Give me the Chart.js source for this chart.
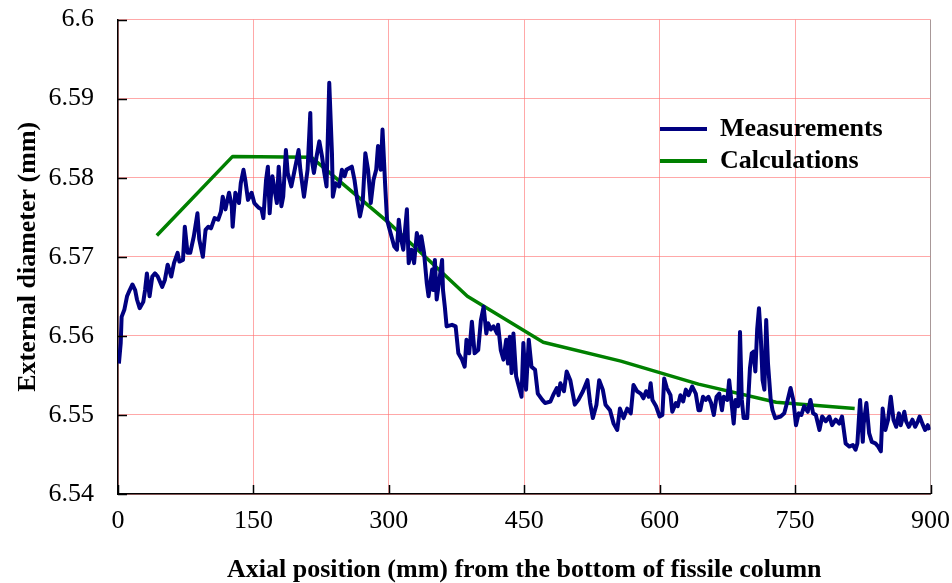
<!DOCTYPE html>
<html><head><meta charset="utf-8">
<script src="https://cdn.jsdelivr.net/npm/chart.js@4"></script>
<style>
html,body{margin:0;padding:0;background:#fff;}
#wrap{position:relative;width:952px;height:583px;}
canvas{display:block;}
.leg{position:absolute;left:660px;font:bold 26px 'Liberation Serif','Times New Roman',serif;color:#000;height:30px;line-height:30px;white-space:nowrap;}
.leg span.sw{display:inline-block;width:47px;height:4px;vertical-align:middle;margin-right:13px;position:relative;top:-1px;}
</style></head>
<body><div id="wrap"><canvas id="c" width="952" height="583"></canvas>
<div class="leg" style="top:113px"><span class="sw" style="background:#000080"></span>Measurements</div>
<div class="leg" style="top:145px"><span class="sw" style="background:#008000"></span>Calculations</div>
</div>
<script>
const measX = [1,3,4,7,10,13,16,19,21,24,28,30,32,35,38,41,44,49,52,55,
59,62,66,68,72,74,77,80,84,88,90,94,97,100,103,107,111,114,116,119,
123,126,127,130,134,136,139,141,144,148,151,156,159,161,164,166,168,171,174,176,
178,181,183,186,188,192,195,198,200,202,206,210,213,214,217,220,223,226,228,231,
234,237,238,241,245,248,251,253,256,259,262,265,268,271,274,277,280,283,286,288,
291,293,296,298,301,306,309,311,313,316,320,322,325,328,331,335,336,339,342,344,
348,349,351,353,356,359,360,362,364,370,374,377,381,384,386,389,392,395,399,402,
405,408,410,413,416,420,421,424,427,430,432,434,436,438,441,444,447,449,452,455,
458,462,465,470,473,479,482,486,488,490,494,497,501,506,510,515,520,523,526,530,
533,537,540,545,549,553,556,560,564,568,571,575,579,582,585,588,590,592,596,600,
603,605,608,612,614,618,620,623,626,629,632,636,640,643,645,648,651,654,657,660,
663,666,669,671,675,677,680,682,684,687,689,691,693,697,700,702,704,706,708,710,
712,714,716,718,720,723,725,728,734,738,741,745,748,751,754,757,760,764,767,770,
773,777,780,784,788,791,795,799,802,804,806,810,814,817,819,822,825,826,829,832,
835,839,842,845,847,850,853,856,859,862,865,867,871,873,876,880,883,886,888,891,
894,897,899];
const measY = [6.5565,6.5591,6.5624,6.5633,6.5650,6.5658,6.5665,6.5658,6.5646,6.5635,6.5643,6.5658,6.5679,6.5650,6.5675,6.5679,6.5675,6.5662,6.5671,6.5690,
6.5675,6.5692,6.5705,6.5694,6.5696,6.5738,6.5705,6.5705,6.5726,6.5755,6.5722,6.5700,6.5734,6.5738,6.5736,6.5749,6.5747,6.5757,6.5776,6.5760,
6.5781,6.5764,6.5738,6.5781,6.5768,6.5793,6.5810,6.5797,6.5772,6.5781,6.5768,6.5762,6.5760,6.5749,6.5797,6.5814,6.5755,6.5802,6.5781,6.5768,
6.5814,6.5764,6.5776,6.5835,6.5806,6.5789,6.5806,6.5823,6.5835,6.5810,6.5776,6.5810,6.5882,6.5827,6.5806,6.5827,6.5846,6.5827,6.5810,6.5789,
6.5920,6.5831,6.5776,6.5793,6.5789,6.5810,6.5802,6.5810,6.5812,6.5814,6.5797,6.5772,6.5751,6.5768,6.5831,6.5810,6.5768,6.5797,6.5810,6.5840,
6.5810,6.5861,6.5789,6.5747,6.5734,6.5713,6.5709,6.5747,6.5726,6.5709,6.5760,6.5692,6.5709,6.5692,6.5730,6.5709,6.5726,6.5705,6.5667,6.5650,
6.5684,6.5658,6.5696,6.5646,6.5671,6.5696,6.5658,6.5637,6.5612,6.5614,6.5612,6.5578,6.5570,6.5561,6.5595,6.5578,6.5618,6.5578,6.5582,6.5620,
6.5637,6.5603,6.5616,6.5608,6.5612,6.5603,6.5614,6.5582,6.5570,6.5595,6.5565,6.5599,6.5553,6.5603,6.5549,6.5536,6.5523,6.5591,6.5532,6.5595,
6.5561,6.5557,6.5527,6.5519,6.5515,6.5517,6.5525,6.5534,6.5525,6.5540,6.5530,6.5555,6.5544,6.5513,6.5519,6.5530,6.5544,6.5515,6.5496,6.5513,
6.5544,6.5532,6.5513,6.5506,6.5489,6.5481,6.5508,6.5496,6.5508,6.5502,6.5538,6.5530,6.5527,6.5521,6.5530,6.5523,6.5540,6.5519,6.5511,6.5498,
6.5500,6.5546,6.5534,6.5525,6.5504,6.5515,6.5511,6.5525,6.5517,6.5532,6.5525,6.5536,6.5527,6.5506,6.5506,6.5523,6.5519,6.5523,6.5515,6.5500,
6.5523,6.5527,6.5506,6.5523,6.5519,6.5544,6.5511,6.5489,6.5519,6.5511,6.5605,6.5519,6.5496,6.5496,6.5559,6.5578,6.5580,6.5555,6.5608,6.5635,
6.5599,6.5544,6.5532,6.5620,6.5565,6.5519,6.5506,6.5496,6.5498,6.5502,6.5515,6.5534,6.5519,6.5487,6.5502,6.5500,6.5511,6.5504,6.5519,6.5502,
6.5500,6.5481,6.5498,6.5492,6.5498,6.5487,6.5494,6.5489,6.5498,6.5481,6.5464,6.5460,6.5462,6.5456,6.5464,6.5519,6.5466,6.5489,6.5515,6.5477,
6.5466,6.5464,6.5460,6.5454,6.5508,6.5481,6.5494,6.5523,6.5494,6.5485,6.5502,6.5487,6.5504,6.5492,6.5485,6.5494,6.5485,6.5492,6.5498,6.5489,
6.5481,6.5487,6.5481];
const calcX = [43,127,214,300,387,471,557,643,729,816];
const calcY = [6.5727,6.5827,6.5826,6.5743,6.5650,6.5592,6.5568,6.5539,6.5516,6.5508];
const xTicks = [0,150,300,450,600,750,900];
const yTicks = [6.54,6.55,6.56,6.57,6.58,6.59,6.6];
const seriesNames = ['Measurements','Calculations'];

const serif = "'Liberation Serif','Times New Roman',serif";
const toPts = (xs, ys) => xs.map((x, i) => ({x: x, y: ys[i]}));

const innerTicks = {
  id: 'innerTicks',
  afterDraw(chart) {
    const ctx = chart.ctx, xs = chart.scales.x, ys = chart.scales.y, a = chart.chartArea;
    ctx.save();
    ctx.strokeStyle = '#000'; ctx.lineWidth = 1.5;
    ctx.beginPath();
    yTicks.forEach(v => { const p = Math.round(ys.getPixelForValue(v)) + 0.5; ctx.moveTo(a.left, p); ctx.lineTo(a.left + 9, p); });
    xTicks.forEach(v => { const p = Math.round(xs.getPixelForValue(v)) + 0.5; ctx.moveTo(p, a.bottom); ctx.lineTo(p, a.bottom - 9); });
    ctx.stroke();
    ctx.restore();
  }
};

new Chart(document.getElementById('c'), {
  type: 'line',
  data: {
    datasets: [
      {label: seriesNames[0], data: toPts(measX, measY), borderColor: '#000080', borderWidth: 4, pointRadius: 0, tension: 0, borderJoinStyle: 'round', fill: false},
      {label: seriesNames[1], data: toPts(calcX, calcY), borderColor: '#008000', borderWidth: 3.5, pointRadius: 0, tension: 0, borderJoinStyle: 'round', fill: false}
    ]
  },
  options: {
    responsive: false, animation: false,
    layout: {padding: {left: 0, right: 0, top: 0, bottom: 0}},
    plugins: {legend: {display: false}, tooltip: {enabled: false}},
    scales: {
      x: {
        type: 'linear', min: 0, max: 900,
        afterBuildTicks: s => { s.ticks = xTicks.map(v => ({value: v})); },
        afterFit: s => { s.height = 89; },
        grid: {drawTicks: true, tickLength: 10, tickColor: 'rgba(0,0,0,0)', lineWidth: 1, color: c => c.tick && c.tick.value === 900 ? '#a89898' : 'rgba(255,110,110,0.6)'},
        border: {color: '#000', width: 1.5},
        ticks: {padding: 2, color: '#000', font: {family: serif, size: 26}, maxRotation: 0, callback: v => String(v)},
        title: {display: true, text: 'Axial position (mm) from the bottom of fissile column', color: '#000', font: {family: serif, size: 26, weight: 'bold', lineHeight: 1.0}, padding: {top: 0, bottom: 0}}
      },
      y: {
        type: 'linear', min: 6.54, max: 6.6,
        afterBuildTicks: s => { s.ticks = yTicks.map(v => ({value: v})); },
        afterFit: s => { s.width = 118; },
        grid: {drawTicks: true, tickLength: 20, tickColor: 'rgba(0,0,0,0)', lineWidth: 1, color: 'rgba(255,110,110,0.6)'},
        border: {color: '#000', width: 1.5},
        ticks: {padding: 4, color: '#000', font: {family: serif, size: 26}, callback: v => String(parseFloat(Number(v).toFixed(2)))},
        title: {display: true, text: 'External diameter (mm)', color: '#000', font: {family: serif, size: 26, weight: 'bold', lineHeight: 1.0}, padding: {top: 15, bottom: 0}}
      }
    }
  },
  plugins: [innerTicks]
});
</script>
</body></html>
